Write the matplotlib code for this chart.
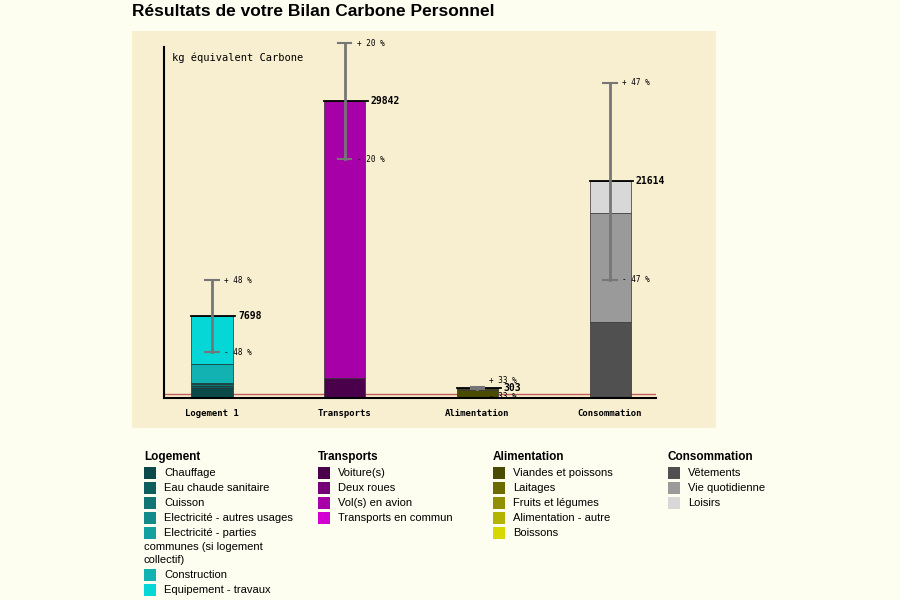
import matplotlib
matplotlib.use("Agg")
import matplotlib.pyplot as plt
from matplotlib.patches import Rectangle

# donnees
categories = ["Logement 1", "Transports", "Alimentation", "Consommation"]
totals = [7698, 29842, 303, 21614]
incert = [48, 20, 33, 47]

logement_noms = ["Chauffage", "Eau chaude sanitaire", "Cuisson", "Electricité - autres usages",
                 "Electricité - parties\ncommunes (si logement\ncollectif)", "Construction",
                 "Equipement - travaux"]
logement_vals = [350, 200, 120, 164, 0, 1948, 4916]
logement_cols = ["#0c4a4a", "#0f5e5e", "#117575", "#138b8b", "#14a0a0", "#13b2b2", "#05d6d6"]

transports_noms = ["Voiture(s)", "Deux roues", "Vol(s) en avion", "Transports en commun"]
transports_vals = [1315, 0, 28527, 0]
transports_cols = ["#4a004a", "#760076", "#a800a8", "#d200d2"]

alim_noms = ["Viandes et poissons", "Laitages", "Fruits et légumes", "Alimentation - autre", "Boissons"]
alim_vals = [120, 60, 40, 50, 33]
alim_cols = ["#4a4a00", "#6b6b00", "#8f8f00", "#b4b400", "#d8d800"]

conso_noms = ["Vêtements", "Vie quotidienne", "Loisirs"]
conso_vals = [7074, 11298, 3242]
conso_cols = ["#505050", "#9a9a9a", "#d8d8d8"]

groupes = [("Logement", logement_noms, logement_vals, logement_cols),
           ("Transports", transports_noms, transports_vals, transports_cols),
           ("Alimentation", alim_noms, alim_vals, alim_cols),
           ("Consommation", conso_noms, conso_vals, conso_cols)]

W, H = 900, 600
def fx(px):
    return px / W
def fy(py):
    return 1 - py / H

fig = plt.figure(figsize=(9, 6), dpi=100)
fig.patch.set_facecolor("#fdfdf0")

# fond du graphique
fig.add_artist(Rectangle((fx(132), fy(428)), fx(716 - 132), (428 - 31) / H,
                         transform=fig.transFigure, facecolor="#f8eed0", edgecolor="none", zorder=0))

fig.text(fx(132), fy(11), "Résultats de votre Bilan Carbone Personnel", fontsize=12.5,
         fontweight="bold", family="Liberation Sans", va="center", ha="left")

ax = fig.add_axes([fx(164), fy(398), fx(656 - 164), (398 - 40) / H])
ax.patch.set_alpha(0)
k = 103.0  # kg par pixel
ymin = -(398 - 391) * k
ymax = (391 - 40) * k
ax.set_ylim(ymin, ymax)
ax.set_xlim(-0.362, 3.346)
ppu = 1 / k

mono = "DejaVu Sans Mono"
largeur = 0.31
for i, (nom, noms, vals, cols) in enumerate(groupes):
    bas = ymin  # les barres partent du bas de l'axe
    for v, c in zip(vals, cols):
        if v > 0:
            h = v if bas > ymin else v - ymin
            ax.bar(i, h, largeur, bottom=bas, color=c, edgecolor="#1a3030" if i == 0 else "#303030",
                   linewidth=0.5, zorder=2)
            bas += h
    tot = totals[i]
    ax.plot([i - largeur / 2, i + largeur / 2 + 0.02], [tot, tot], color="black", lw=1.3, zorder=3)
    ax.annotate(str(tot), (i + largeur / 2 + 0.04, tot), fontsize=7, family=mono, fontweight="bold",
                va="center", ha="left", zorder=4)
    haut = tot * (1 + incert[i] / 100)
    bas_e = tot * (1 - incert[i] / 100)
    ax.plot([i, i], [bas_e, haut], color="#767676", lw=2, zorder=4)
    for yv in (haut, bas_e):
        ax.plot([i - 0.05, i + 0.05], [yv, yv], color="#767676", lw=1.5, zorder=4)
    # ecart minimal des etiquettes (en points)
    d_haut = max(0, 8 - (haut - tot) * ppu) * 0.72
    d_bas = max(0, 8 - (tot - bas_e) * ppu) * 0.72
    ax.annotate("+ %d %%" % incert[i], (i + 0.09, haut), xytext=(0, d_haut), textcoords="offset points",
                fontsize=5.5, family=mono, va="center", ha="left", zorder=4)
    ax.annotate("- %d %%" % incert[i], (i + 0.09, bas_e), xytext=(0, -d_bas), textcoords="offset points",
                fontsize=5.5, family=mono, va="center", ha="left", zorder=4)

ax.axhline(-3 * k, color="#c0605a", lw=1, zorder=1)
for s in ["top", "right"]:
    ax.spines[s].set_visible(False)
ax.spines["left"].set_bounds(ymin, (391 - 47) * k)
ax.spines["left"].set_linewidth(1.5)
ax.spines["bottom"].set_linewidth(1.5)
ax.set_yticks([])
ax.set_xticks(range(4))
ax.set_xticklabels(categories, family=mono, fontweight="bold", fontsize=6.5)
ax.tick_params(axis="x", length=0, pad=8)

fig.text(fx(172), fy(58), "kg équivalent Carbone", family=mono, fontsize=7.5, va="center", ha="left")

# legende
colonnes_x = [144, 318, 493, 668]
for (nom, noms, vals, cols), x0 in zip(groupes, colonnes_x):
    fig.text(fx(x0), fy(457), nom, fontsize=8.5, fontweight="bold", family="Liberation Sans",
             va="center", ha="left")
    y = 473
    for n, c in zip(noms, cols):
        fig.add_artist(Rectangle((fx(x0), fy(y + 6)), fx(12), 12 / H, transform=fig.transFigure,
                                 facecolor=c, edgecolor="none"))
        lignes = n.split("\n")
        fig.text(fx(x0 + 20), fy(y), lignes[0], fontsize=8, family="Liberation Sans", va="center", ha="left")
        for ligne in lignes[1:]:
            y += 13.5
            fig.text(fx(x0), fy(y), ligne, fontsize=8, family="Liberation Sans", va="center", ha="left")
        y += 15

fig.savefig("out.png", dpi=100, facecolor=fig.get_facecolor())
